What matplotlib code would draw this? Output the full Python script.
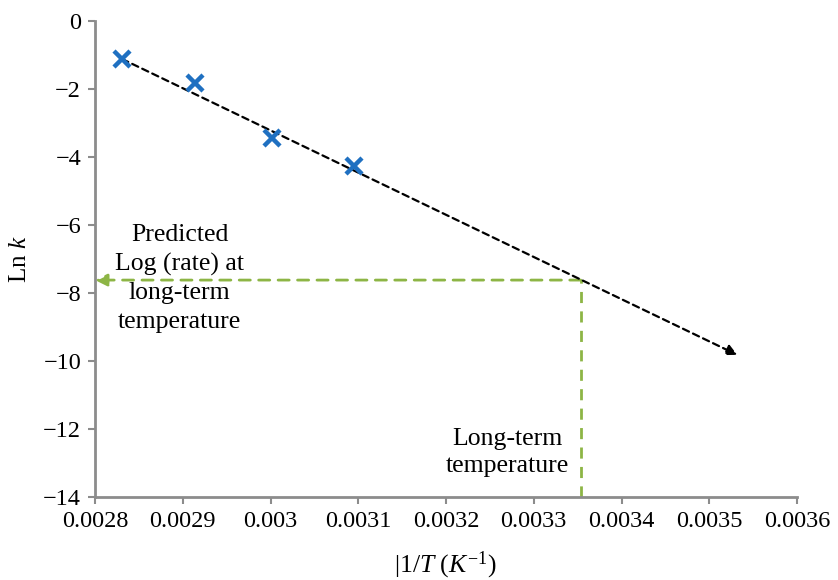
import matplotlib
matplotlib.use("Agg")
import matplotlib.pyplot as plt
import numpy as np

# Data
inv_T = [0.002831, 0.0029136, 0.0030014, 0.0030949]
ln_k = [-1.12, -1.82, -3.44, -4.26]
trend_start = (0.002831, -1.12)
trend_end = (0.003532, -9.82)
longterm_x = 0.0033537
predicted_y = -7.62
xticks = [0.0028, 0.0029, 0.003, 0.0031, 0.0032, 0.0033, 0.0034, 0.0035, 0.0036]
xticklabels = ["0.0028", "0.0029", "0.003", "0.0031", "0.0032", "0.0033", "0.0034", "0.0035", "0.0036"]
yticks = [0, -2, -4, -6, -8, -10, -12, -14]
yticklabels = ["0", "\u22122", "\u22124", "\u22126", "\u22128", "\u221210", "\u221212", "\u221214"]

plt.rcParams['font.family'] = ['Liberation Serif', 'DejaVu Serif']
plt.rcParams['mathtext.fontset'] = 'custom'
plt.rcParams['mathtext.rm'] = 'Liberation Serif'
plt.rcParams['mathtext.it'] = 'Liberation Serif:italic'

fig = plt.figure(figsize=(8.38, 5.80), dpi=100)
ax = fig.add_axes([95/838, 1-497/580, (797-95)/838, (497-21)/580])

green = "#8DB545"
blue = "#1F70C1"
gray = "#8C8C8C"

# green guide lines
ax.plot([longterm_x, longterm_x], [-14, predicted_y], ls=(0, (4, 3)), color=green, lw=2, zorder=2)
ax.annotate("", xy=(0.0028, predicted_y), xytext=(longterm_x, predicted_y),
            arrowprops=dict(arrowstyle="-|>", color=green, lw=2, ls=(0, (4, 3)),
                            mutation_scale=18, shrinkA=0, shrinkB=0), zorder=2)

# trend line
ax.annotate("", xy=trend_end, xytext=trend_start,
            arrowprops=dict(arrowstyle="-|>", color="black", lw=1.6, ls=(0, (3, 2)),
                            mutation_scale=16, shrinkA=0, shrinkB=0), zorder=3)

ax.plot(inv_T, ln_k, ls="none", marker="x", ms=12, mew=3.2, color=blue, zorder=4)

ax.set_xlim(0.0028, 0.0036)
ax.set_ylim(-14, 0)
ax.set_xticks(xticks)
ax.set_xticklabels(xticklabels)
ax.set_yticks(yticks)
ax.set_yticklabels(yticklabels)
ax.tick_params(axis="both", direction="out", length=5, width=1.5, color=gray,
               labelsize=17.5, pad=5)
for s in ["top", "right"]:
    ax.spines[s].set_visible(False)
for s in ["left", "bottom"]:
    ax.spines[s].set_color(gray)
    ax.spines[s].set_linewidth(2)

ax.text(0.0028965, -7.57, "Predicted\nLog (rate) at\nlong-term\ntemperature",
        ha="center", va="center", fontsize=18.5, linespacing=1.38)
ax.text(0.0032705, -12.7, "Long-term\ntemperature", ha="center", va="center",
        fontsize=18.5, linespacing=1.3)

fig.text(20/838, 1-259/580, "Ln $\\mathit{k}$", rotation=90, ha="center", va="center", fontsize=18)
fig.text(445/838, 1-565/580, "|1/$\\mathit{T}$ ($\\mathit{K}^{-1}$)", ha="center", va="center", fontsize=18.5)

fig.savefig("out.png", dpi=100)
